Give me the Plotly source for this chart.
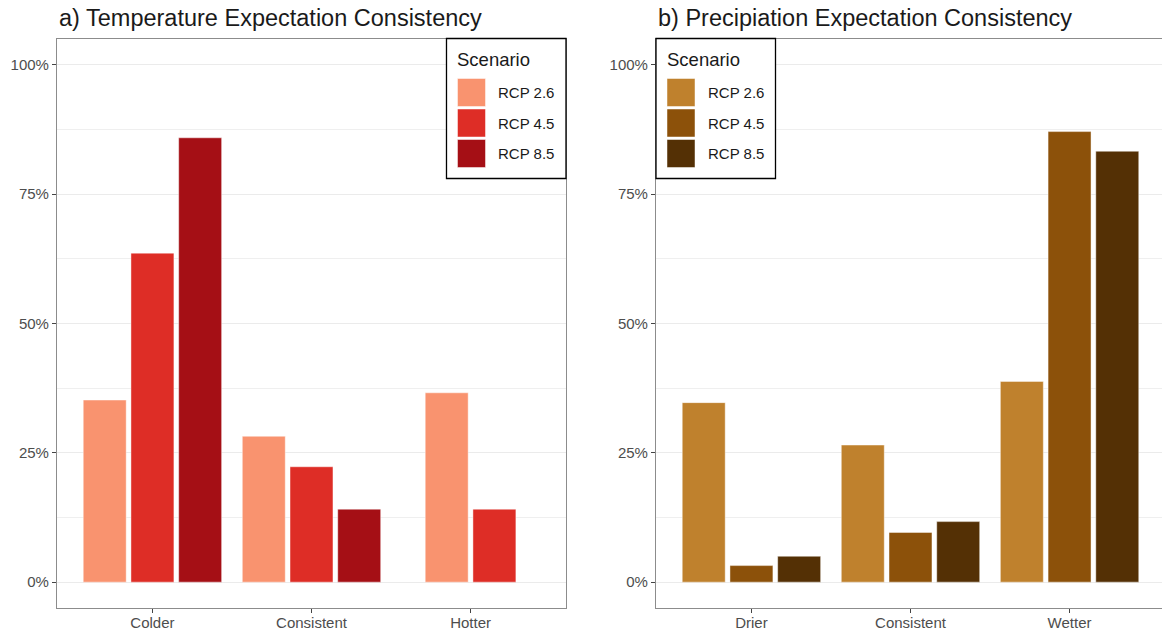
import plotly.graph_objects as go

# ---- data -------------------------------------------------------------
scenarios = ["RCP 2.6", "RCP 4.5", "RCP 8.5"]

temp_categories = ["Colder", "Consistent", "Hotter"]
temp_rcp26 = [0.352, 0.282, 0.366]
temp_rcp45 = [0.636, 0.223, 0.141]
temp_rcp85 = [0.859, 0.141, None]

precip_categories = ["Drier", "Consistent", "Wetter"]
precip_rcp26 = [0.347, 0.265, 0.388]
precip_rcp45 = [0.032, 0.096, 0.871]
precip_rcp85 = [0.050, 0.117, 0.833]

y_ticks = [0, 0.25, 0.5, 0.75, 1.0]

temp_colors = ["#F9936F", "#DE2D26", "#A50F15"]
precip_colors = ["#BF812D", "#8C510A", "#543005"]

# ---- canvas geometry --------------------------------------------------
W, H = 1162, 636
FONT = "Liberation Sans, Arial, Helvetica, sans-serif"

def px_x(p):
    return p / W

def px_y(p):
    return 1 - p / H

unit = 159.06                      # px per category on both panels
left_dom = [px_x(57), px_x(57 + 3.2 * unit)]
right_dom = [px_x(656), 1.0]
right_hi = -0.6 + (W - 656) / unit
y_dom = [px_y(608), px_y(39)]

fig = go.Figure()

SLOT = 0.9 / 3          # dodge width split over the scenarios
BAR_W = SLOT * 0.9      # bar width after padding


def add_panel(cats, series, colors, xa, ya):
    """Dodged bars; missing values collapse so remaining bars stay centred."""
    present = [[s[i] is not None for s in series] for i in range(len(cats))]
    for k, (vals, col) in enumerate(zip(series, colors)):
        xs, ys, offs = [], [], []
        for i, v in enumerate(vals):
            if v is None:
                continue
            n = sum(present[i])
            rank = sum(present[i][:k])
            xs.append(cats[i])
            ys.append(v)
            offs.append(-n * SLOT / 2 + rank * SLOT + (SLOT - BAR_W) / 2)
        fig.add_trace(go.Bar(
            x=xs, y=ys, name=scenarios[k],
            offset=offs, width=[BAR_W] * len(xs),
            marker=dict(color=col, line=dict(color="rgba(255,255,255,0.55)", width=0.8)),
            xaxis=xa, yaxis=ya, showlegend=False,
            hovertemplate="%{x}: %{y:.1%}<extra>" + scenarios[k] + "</extra>",
        ))


add_panel(temp_categories, [temp_rcp26, temp_rcp45, temp_rcp85], temp_colors, "x", "y")
add_panel(precip_categories, [precip_rcp26, precip_rcp45, precip_rcp85], precip_colors, "x2", "y2")

axis_line = "#8C8C8C"
tick_font = dict(family=FONT, size=15, color="#4D4D4D")

common_x = dict(
    type="category", showgrid=False, zeroline=False,
    showline=True, linecolor=axis_line, linewidth=1.1, mirror=True,
    ticks="outside", ticklen=4, tickcolor="#444444", tickwidth=1,
    tickfont=tick_font, ticklabelstandoff=-3, fixedrange=True,
)
common_y = dict(
    range=[-0.05, 1.05], domain=y_dom, tickvals=y_ticks, tickformat=".0%",
    showgrid=True, gridcolor="#EBEBEB", gridwidth=1.2, zeroline=False,
    minor=dict(tick0=0.125, dtick=0.25, showgrid=True, gridcolor="#EFEFEF", gridwidth=0.7),
    showline=True, linecolor=axis_line, linewidth=1.1,
    ticks="outside", ticklen=4, tickcolor="#444444", tickwidth=1,
    tickfont=tick_font, fixedrange=True,
)

fig.update_layout(
    xaxis=dict(common_x, domain=left_dom, range=[-0.6, 2.6], anchor="y",
               categoryorder="array", categoryarray=temp_categories),
    yaxis=dict(common_y, anchor="x", mirror=True),
    xaxis2=dict(common_x, domain=right_dom, range=[-0.6, right_hi], anchor="y2",
                categoryorder="array", categoryarray=precip_categories),
    yaxis2=dict(common_y, anchor="x2"),
    barmode="group",
    width=W, height=H, autosize=False,
    margin=dict(l=0, r=0, t=0, b=0),
    paper_bgcolor="white", plot_bgcolor="white",
    font=dict(family=FONT),
)

# ---- panel titles -----------------------------------------------------
titles = ["a) Temperature Expectation Consistency", "b) Precipiation Expectation Consistency"]
for title, dom in zip(titles, [left_dom, right_dom]):
    fig.add_annotation(
        text=title, xref="paper", yref="paper", x=dom[0], y=px_y(17.5),
        xanchor="left", yanchor="middle", showarrow=False,
        font=dict(family=FONT, size=23.5, color="#1A1A1A"),
    )

# ---- legends drawn inside each panel ----------------------------------
BOX_W, BOX_H = 119.5, 140
KEY = 28
ROW = 30.5


def add_legend(box_left_px, colors):
    top = 38.5
    fig.add_shape(type="rect", xref="paper", yref="paper",
                  x0=px_x(box_left_px), x1=px_x(box_left_px + BOX_W),
                  y0=px_y(top + BOX_H), y1=px_y(top),
                  line=dict(color="#000000", width=1.3), fillcolor="white", layer="above")
    fig.add_annotation(text="Scenario", xref="paper", yref="paper",
                       x=px_x(box_left_px + 9), y=px_y(top + 21),
                       xanchor="left", yanchor="middle", showarrow=False,
                       font=dict(family=FONT, size=18.5, color="#1A1A1A"))
    for k, (name, col) in enumerate(zip(scenarios, colors)):
        cy = top + 54 + k * ROW
        fig.add_shape(type="rect", xref="paper", yref="paper",
                      x0=px_x(box_left_px + 11), x1=px_x(box_left_px + 11 + KEY),
                      y0=px_y(cy + KEY / 2), y1=px_y(cy - KEY / 2),
                      line=dict(color="rgba(255,255,255,0.6)", width=0.8),
                      fillcolor=col, layer="above")
        fig.add_annotation(text=name, xref="paper", yref="paper",
                           x=px_x(box_left_px + 50), y=px_y(cy),
                           xanchor="left", yanchor="middle", showarrow=False,
                           font=dict(family=FONT, size=15, color="#1A1A1A"))


add_legend(left_dom[1] * W - BOX_W, temp_colors)
add_legend(656, precip_colors)

fig.write_html("out.html")
